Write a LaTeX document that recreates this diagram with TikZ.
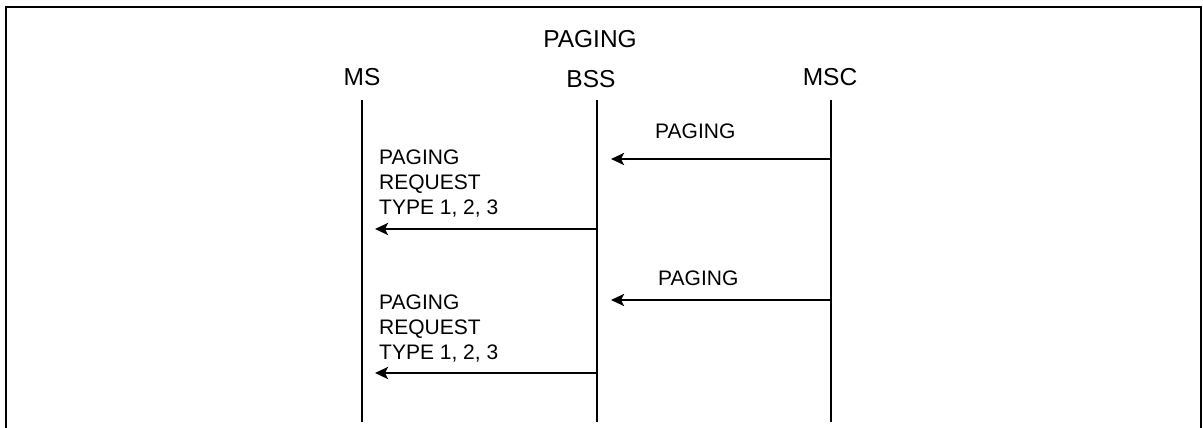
\documentclass[tikz,border=0pt]{standalone}
\usepackage{fontspec}
\setmainfont{Liberation Sans}
\usetikzlibrary{arrows.meta}
\tikzset{
  big/.style={font=\fontsize{24.5}{29}\selectfont, inner sep=0pt},
  small/.style={font=\fontsize{21}{25}\selectfont, inner sep=0pt, align=left},
  lifeline/.style={line width=2.6pt},
  msg/.style={line width=2.5pt, -{Stealth[length=13pt,width=12pt,inset=3pt]}},
  frame/.style={line width=2.2pt}
}
\begin{document}
\begin{tikzpicture}[x=1pt,y=-1pt]
\useasboundingbox (0,0) rectangle (1203,428);
\draw[frame] (6,429) -- (6,7) -- (1201,7) -- (1201,429);
% title and entity labels
\node[big, anchor=base] (title) at (590,48) {PAGING};
\node[big, anchor=base] (ms) at (362,85) {MS};
\node[big, anchor=base] (bss) at (591,88) {BSS};
\node[big, anchor=base] (msc) at (830,85) {MSC};
% lifelines
\coordinate (msT) at (362,100);  \coordinate (msB) at (362,422);
\coordinate (bssT) at (597,100); \coordinate (bssB) at (597,422);
\coordinate (mscT) at (831,100); \coordinate (mscB) at (831,422);
\draw[lifeline] (msT) -- (msB);
\draw[lifeline] (bssT) -- (bssB);
\draw[lifeline] (mscT) -- (mscB);
% message ends
\coordinate (m1s) at (831,159); \coordinate (m1e) at (611,159);
\coordinate (m2s) at (597,229); \coordinate (m2e) at (375,229);
\coordinate (m3s) at (831,300); \coordinate (m3e) at (611,300);
\coordinate (m4s) at (597,373); \coordinate (m4e) at (375,373);
\draw[msg] (m1s) -- (m1e);
\draw[msg] (m2s) -- (m2e);
\draw[msg] (m3s) -- (m3e);
\draw[msg] (m4s) -- (m4e);
% labels
\node[small, anchor=base west] (l1) at (655,139) {PAGING};
\node[small, anchor=north west] (l2) at (379,150) {PAGING\\REQUEST\\TYPE 1, 2, 3};
\node[small, anchor=base west] (l3) at (658,285) {PAGING};
\node[small, anchor=north west] (l4) at (379,295) {PAGING\\REQUEST\\TYPE 1, 2, 3};
\end{tikzpicture}
\end{document}
